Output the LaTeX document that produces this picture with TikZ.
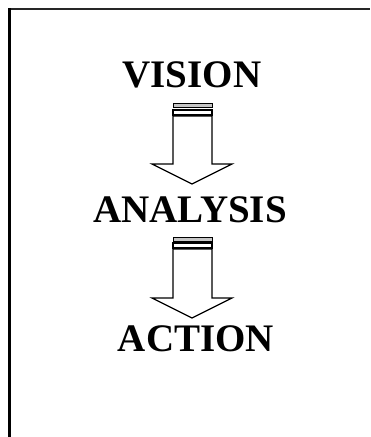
\documentclass[tikz,border=0pt]{standalone}
\usepackage{fontspec}
\setmainfont{Liberation Serif}
\begin{document}
\begin{tikzpicture}[x=1pt,y=-1pt,
  word/.style={font=\fontsize{39}{44}\selectfont\bfseries, anchor=base, inner sep=0pt},
  arrowline/.style={draw=black, line width=1.2pt, line join=miter, fill=white},
  stripe/.style={draw=black, line width=1pt, fill=gray!45}]
\useasboundingbox (0,0) rectangle (370,437);
% frame
\draw[line width=2.2pt, draw=black!85] (8,9) -- (370,9);
\draw[line width=2.8pt] (9.5,8) -- (9.5,437);
% words
\node[word] (vision) at (192,87) {VISION};
\node[word] (analysis) at (190,222) {ANALYSIS};
\node[word] (action) at (196,351) {ACTION};
% arrow 1
\draw[stripe] (173,103) rectangle (212,107.5);
\draw[arrowline] (173,110) rectangle (212,115);
\draw[arrowline] (173,116) -- (173,164) -- (152,164) -- (192,184) -- (232,164) -- (212,164) -- (212,116) -- cycle;
% arrow 2
\draw[stripe] (173,237) rectangle (212,241.5);
\draw[arrowline] (173,243) rectangle (212,248);
\draw[arrowline] (173,249) -- (173,298) -- (152,298) -- (192,318) -- (232,298) -- (212,298) -- (212,249) -- cycle;
\end{tikzpicture}
\end{document}
